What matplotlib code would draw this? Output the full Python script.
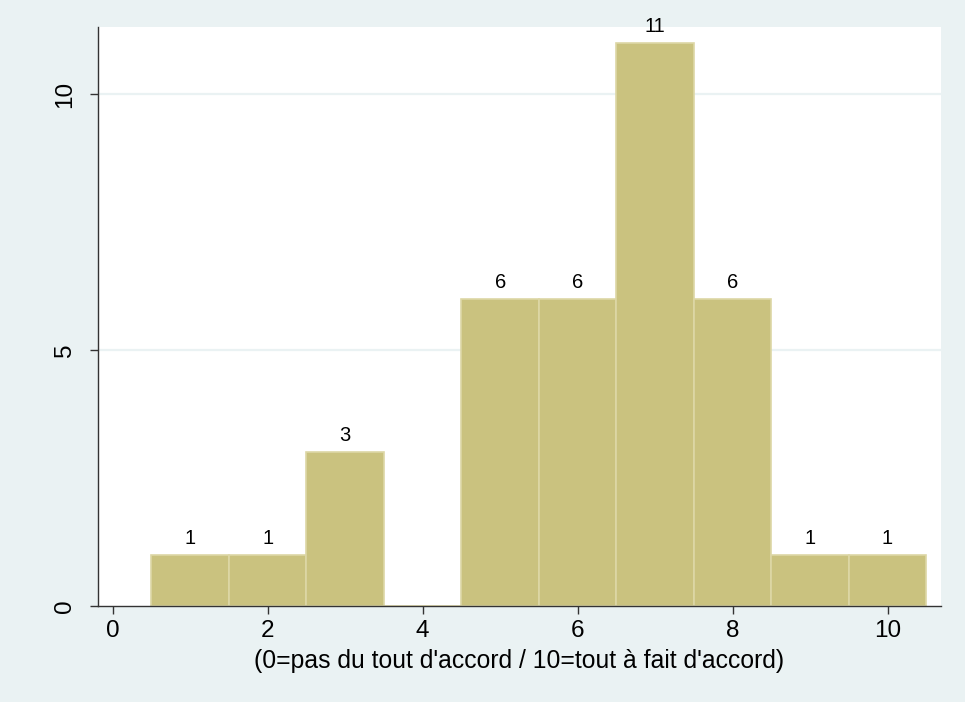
import matplotlib
matplotlib.use("Agg")
import matplotlib.pyplot as plt

# histogram counts per score (0..10 scale)
scores = [1, 2, 3, 4, 5, 6, 7, 8, 9, 10]
counts = [1, 1, 3, 0, 6, 6, 11, 6, 1, 1]
x_ticks = [0, 2, 4, 6, 8, 10]
y_ticks = [0, 5, 10]
x_label = "(0=pas du tout d'accord / 10=tout à fait d'accord)"

BG = "#EAF2F3"
BAR = "#CAC27F"
BAR_EDGE = "#DDD7A6"

plt.rcParams["font.family"] = ["Liberation Sans", "DejaVu Sans"]

fig = plt.figure(figsize=(9.65, 7.02), dpi=100, facecolor=BG)
W, H = 965, 702
left, right, top, bottom = 98, 941, 27, 606
ax = fig.add_axes([left / W, 1 - bottom / H, (right - left) / W, (bottom - top) / H])
ax.set_facecolor("white")

ax.bar(scores, counts, width=1.0, color=BAR, edgecolor=BAR_EDGE, linewidth=1.2, zorder=3)
for x, c in zip(scores, counts):
    if c > 0:
        ax.annotate(str(c), (x, c), xytext=(0, 5), textcoords="offset points",
                    ha="center", va="bottom", fontsize=14.5, zorder=4)

ax.set_xlim(-0.19, 10.69)
ax.set_ylim(0, 11.31)
ax.set_xticks(x_ticks)
ax.set_yticks(y_ticks)
ax.set_yticklabels([str(v) for v in y_ticks], rotation=90, va="center")
ax.tick_params(axis="both", labelsize=17.5, length=6, width=1, color="#333333", pad=4)
ax.tick_params(axis="y", pad=10)

for y in y_ticks[1:]:
    ax.axhline(y, color=BG, linewidth=1.6, zorder=1)

for side in ("top", "right"):
    ax.spines[side].set_visible(False)
for side in ("left", "bottom"):
    ax.spines[side].set_color("#333333")
    ax.spines[side].set_linewidth(1.0)
    ax.spines[side].set_zorder(5)

ax.set_xlabel(x_label, fontsize=17.8, labelpad=5)

fig.savefig("out.png", dpi=100, facecolor=BG)
